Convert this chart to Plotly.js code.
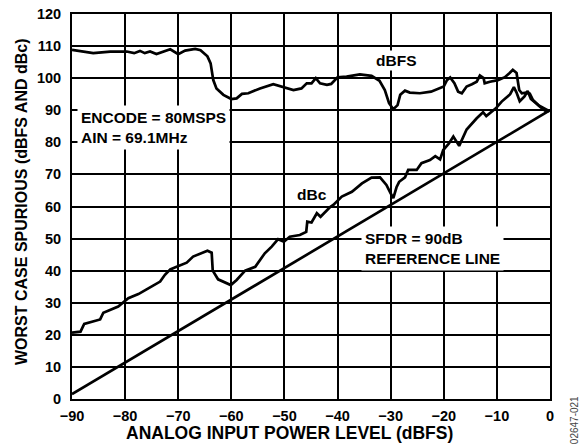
<!DOCTYPE html>
<html>
<head>
<meta charset="utf-8">
<script src="https://cdn.plot.ly/plotly-3.0.1.min.js"></script>
<style>html,body{margin:0;padding:0;background:#fff;}#chart{width:587px;height:444px;}</style>
</head>
<body>
<div id="chart"></div>
<script>
// Worst-case spurious (dBFS) vs analog input power level
const dbfsX = [-90,-88.5,-86,-82.8,-79.7,-78.3,-77.2,-76.3,-75.3,-74.1,-72.8,-71.5,-70,-68.7,-66.8,-65.8,-64.5,-63.9,-63.4,-62.8,-61.5,-60,-59,-58,-56.8,-54.6,-52.1,-50.2,-48.3,-46.8,-45.8,-44.9,-44.1,-43.3,-42,-41.2,-40,-38.3,-35.8,-33.6,-32.1,-31.1,-30.3,-29.5,-28.7,-28.2,-27.3,-26.4,-24.5,-22.4,-21.2,-20,-19.4,-18.8,-18,-17.3,-16.6,-15.7,-14.7,-13.8,-13.2,-12.5,-12.3,-11.3,-9.8,-8.5,-7.6,-7,-6.3,-6,-5.8,-5.3,-4.5,-3.8,-3.2,-1.9,-0.7,-0.2];
const dbfsY = [108.8,108.5,107.8,108.3,108.3,107.8,108.5,107.8,108.3,107.5,108.3,109.0,107.5,108.6,109.1,108.7,106.8,104.6,99.4,96.8,94.8,93.5,93.7,95.1,95.3,96.8,98.1,97.2,96.3,96.8,98.4,98.4,100.0,98.4,97.9,98.2,100.3,100.5,101.2,100.7,99.2,96.3,92.2,90.3,91.6,94.8,96.1,95.5,95.3,95.8,96.6,97.4,99.4,100.2,98.4,95.8,95.3,97.4,98.1,98.9,100.8,100.0,98.4,98.9,99.4,100.3,101.6,102.6,101.6,98.8,96.3,95.3,95.5,95.2,93.2,91.1,89.6,89.8];

// Worst-case spurious (dBc)
const dbcX = [-90,-88.4,-87.7,-86.3,-84.7,-84.1,-82.8,-81.3,-79.4,-77.5,-75.3,-73.4,-72.5,-71.5,-70.3,-68.4,-67.2,-65.9,-64.5,-63.7,-63.5,-62.5,-61.2,-60.1,-59,-57.4,-55.5,-54.6,-53.7,-52.4,-51.2,-50.1,-49,-47.1,-45.9,-45.7,-44.9,-43.9,-43.2,-41.4,-40.8,-39.2,-37.3,-35.4,-33.6,-32,-30.8,-30,-29.5,-28.9,-28.4,-27.3,-26.7,-25.1,-24.2,-22.6,-21.6,-20.7,-20.1,-19,-18.2,-17.1,-15.7,-13.8,-12.6,-12,-10.2,-9.1,-8.5,-7.5,-6.8,-6.3,-5.7,-4.8,-4.2,-3.6,-2.2,-0.2];
const dbcY = [20.7,21.0,23.4,24.1,24.8,26.9,27.7,28.8,31.4,32.7,34.8,36.6,38.7,40.4,41.2,42.5,44.4,45.3,46.2,45.6,40.0,37.3,36.3,35.5,37.1,40.0,41.2,43.3,45.4,47.5,49.8,49.0,50.6,51.1,52.1,55.3,55.0,57.9,56.8,59.8,60.5,63.1,64.6,67.2,69.0,69.1,66.7,64.1,62.6,66.0,67.7,69.1,71.4,71.4,73.5,74.5,75.7,74.7,77.6,79.7,81.8,78.9,84.0,87.5,89.4,88.2,90.6,92.7,93.6,95.0,97.2,95.5,92.8,94.3,96.0,93.5,91.6,89.8];

// SFDR = 90 dB reference line
const refX = [-90, 0];
const refY = [1.5, 90];

const xTickVals = [-90,-80,-70,-60,-50,-40,-30,-20,-10,0];
const yTickVals = [0,10,20,30,40,50,60,70,80,90,100,110,120];

const xTitle = 'ANALOG INPUT POWER LEVEL (dBFS)';
const yTitle = 'WORST CASE SPURIOUS (dBFS AND dBc)';

const FONT = 'Liberation Sans, Arial, Helvetica, sans-serif';
const lineStyle = {color: '#000', width: 2.7, shape: 'linear'};

const traces = [
  {x: refX, y: refY, mode: 'lines', name: 'SFDR = 90dB', line: lineStyle, hoverinfo: 'skip'},
  {x: dbcX, y: dbcY, mode: 'lines', name: 'dBc', line: lineStyle},
  {x: dbfsX, y: dbfsY, mode: 'lines', name: 'dBFS', line: lineStyle}
];

const tickFont = {family: FONT, size: 14.5, color: '#000', weight: 'bold'};

const layout = {
  width: 587, height: 444, autosize: false,
  margin: {l: 72, r: 37, t: 14, b: 45, pad: 0},
  paper_bgcolor: '#fff', plot_bgcolor: '#fff',
  showlegend: false,
  font: {family: FONT, color: '#000'},
  xaxis: {
    range: [-90, 0], tickvals: xTickVals, ticklabelstandoff: 3,
    showgrid: true, gridcolor: '#000', gridwidth: 1.5,
    showline: true, linecolor: '#000', linewidth: 2, mirror: true,
    zeroline: false, ticks: '', tickfont: tickFont
  },
  yaxis: {
    range: [0, 120], tickvals: yTickVals, ticklabelstandoff: 6,
    showgrid: true, gridcolor: '#000', gridwidth: 1.5,
    showline: true, linecolor: '#000', linewidth: 2, mirror: true,
    zeroline: false, ticks: '', tickfont: tickFont
  },
  annotations: [
    {xref: 'paper', yref: 'paper', x: 0.456, y: -0.088, xanchor: 'center', yanchor: 'middle',
     text: xTitle, showarrow: false, font: {family: FONT, size: 17.5, weight: 'bold', color: '#000'}},
    {xref: 'paper', yref: 'paper', x: -0.1046, y: 0.5117, xanchor: 'center', yanchor: 'middle',
     text: yTitle, textangle: -90, showarrow: false, font: {family: FONT, size: 16, weight: 'bold', color: '#000'}},
    {xref: 'x', yref: 'y', x: -89, y: 84.6, xanchor: 'left', yanchor: 'middle', align: 'left',
     text: 'ENCODE = 80MSPS<br>AIN = 69.1MHz', showarrow: false, bgcolor: '#fff', borderpad: 3,
     font: {family: FONT, size: 15.5, weight: 'bold', color: '#000'}},
    {xref: 'x', yref: 'y', x: -22.1, y: 46.8, xanchor: 'center', yanchor: 'middle', align: 'left',
     text: 'SFDR = 90dB<br>REFERENCE LINE', showarrow: false, bgcolor: '#fff', borderpad: 3,
     font: {family: FONT, size: 15.5, weight: 'bold', color: '#000'}},
    {xref: 'x', yref: 'y', x: -29.0, y: 105.4, xanchor: 'center', yanchor: 'middle',
     text: 'dBFS', showarrow: false, bgcolor: '#fff', borderpad: 1,
     font: {family: FONT, size: 15.5, weight: 'bold', color: '#000'}},
    {xref: 'x', yref: 'y', x: -44.8, y: 63.6, xanchor: 'center', yanchor: 'middle',
     text: 'dBc', showarrow: false,
     font: {family: FONT, size: 15.5, weight: 'bold', color: '#000'}},
    {xref: 'paper', yref: 'paper', x: 1.0, y: -0.055, xshift: 24, xanchor: 'center', yanchor: 'middle',
     text: '02647-021', textangle: -90, showarrow: false,
     font: {family: FONT, size: 10, color: '#444'}}
  ]
};

Plotly.newPlot('chart', traces, layout, {displayModeBar: false});
</script>
</body>
</html>
